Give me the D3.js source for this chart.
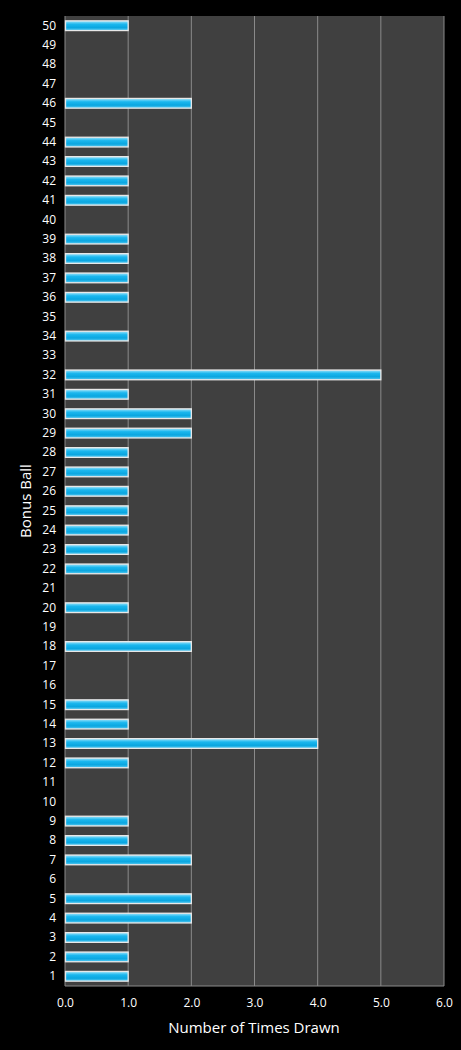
<!DOCTYPE html><html><head><meta charset="utf-8">
<script src="https://cdn.jsdelivr.net/npm/d3@7"></script>
<style>body{margin:0;background:#000}</style></head><body>
<svg id="c" width="461" height="1050"></svg>
<script>
const balls = d3.range(1,51).map(String);
const counts = [1,1,1,2,2,0,2,1,1,0,0,1,4,1,1,0,0,2,0,1,0,1,1,1,1,1,1,1,2,2,1,5,0,1,0,1,1,1,1,0,1,1,1,1,0,2,0,0,0,1];
const xTicks = [0,1,2,3,4,5,6];
const svg = d3.select("#c");
const L=65,R=444,T=16,B=986;
const x = d3.scaleLinear().domain([0,6]).range([L,R]);
const y = d3.scaleBand().domain(balls.slice().reverse()).range([T,B]).paddingInner(0.5).paddingOuter(0.25);
svg.append("rect").attr("width",461).attr("height",1050).attr("fill","#000");
svg.append("rect").attr("x",L).attr("y",T).attr("width",R-L).attr("height",B-T).attr("fill","#404040");
const defs=svg.append("defs");
const g=defs.append("linearGradient").attr("id","bg").attr("x1",0).attr("x2",0).attr("y1",0).attr("y2",1);
[[0,"#9fe4fb"],[0.35,"#1bb7ee"],[0.7,"#0aa6e0"],[1,"#5fcdf3"]].forEach(s=>g.append("stop").attr("offset",s[0]).attr("stop-color",s[1]));
svg.selectAll("line.g").data(xTicks.slice(1)).enter().append("line")
 .attr("x1",d=>x(d)).attr("x2",d=>x(d)).attr("y1",T).attr("y2",B).attr("stroke","#8a8a8a").attr("stroke-width",1);
svg.append("line").attr("x1",L).attr("x2",L).attr("y1",T).attr("y2",B).attr("stroke","#8a8a8a");
svg.append("line").attr("x1",L).attr("x2",R).attr("y1",B).attr("y2",B).attr("stroke","#8a8a8a");
svg.selectAll("rect.b").data(balls.map((b,i)=>({b,v:counts[i]})).filter(d=>d.v>0)).enter().append("rect")
 .attr("x",x(0)+0.5).attr("y",d=>y(d.b)).attr("width",d=>x(d.v)-x(0)-0.5).attr("height",y.bandwidth())
 .attr("fill","url(#bg)").attr("stroke","#e8e8e8").attr("stroke-width",1.3);
const ya=svg.append("g").attr("transform",`translate(${L},0)`).call(d3.axisLeft(y).tickSize(0).tickPadding(9));
const xa=svg.append("g").attr("transform",`translate(0,${B})`).call(d3.axisBottom(x).tickValues(xTicks).tickSize(0).tickPadding(12));
[ya,xa].forEach(a=>{a.select(".domain").remove();a.selectAll("text").attr("fill","#fff").attr("font-family","Open Sans, sans-serif").attr("font-size",12);});
svg.append("text").attr("x",254).attr("y",1033).attr("text-anchor","middle").attr("fill","#fff").attr("font-family","Open Sans, sans-serif").attr("font-size",15).text("Number of Times Drawn");
svg.append("text").attr("transform","translate(31,501) rotate(-90)").attr("text-anchor","middle").attr("fill","#fff").attr("font-family","Open Sans, sans-serif").attr("font-size",15).text("Bonus Ball");
</script></body></html>
